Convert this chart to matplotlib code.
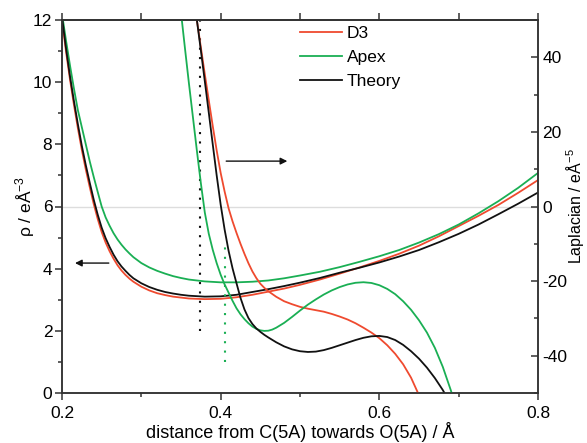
import matplotlib
matplotlib.use('Agg')
import matplotlib.pyplot as plt
from matplotlib.ticker import MultipleLocator, FixedLocator

plt.rcParams['font.family'] = ['Liberation Sans', 'DejaVu Sans']
plt.rcParams['mathtext.fontset'] = 'custom'
plt.rcParams['mathtext.rm'] = 'Liberation Sans'
plt.rcParams['font.size'] = 12.5
plt.rcParams['axes.unicode_minus'] = False

RED = '#ef4a2f'
GREEN = '#1aaf54'
BLACK = '#111111'

# electron density rho along the bond (left axis)
rho_x = [0.200, 0.205, 0.210, 0.215, 0.220, 0.225, 0.230, 0.235, 0.240, 0.245,
         0.250, 0.255, 0.260, 0.265, 0.270, 0.275, 0.280, 0.285, 0.290, 0.300,
         0.310, 0.320, 0.330, 0.340, 0.350, 0.360, 0.380, 0.400, 0.420, 0.440,
         0.460, 0.480, 0.500, 0.525, 0.550, 0.575, 0.600, 0.625, 0.650, 0.675,
         0.700, 0.725, 0.750, 0.775, 0.800]
rho_d3 = [12.0, 11.0, 10.1, 9.28, 8.52, 7.82, 7.19, 6.62, 6.08, 5.6,
          5.18, 4.84, 4.56, 4.32, 4.11, 3.94, 3.8, 3.68, 3.58, 3.42,
          3.3, 3.21, 3.15, 3.1, 3.07, 3.04, 3.02, 3.03, 3.08, 3.16,
          3.26, 3.36, 3.48, 3.65, 3.84, 4.04, 4.25, 4.48, 4.74, 5.04,
          5.37, 5.7, 6.05, 6.44, 6.85]
rho_apex = [12.2, 11.35, 10.55, 9.8, 9.1, 8.55, 8.0, 7.45, 6.95, 6.47,
            6.0, 5.65, 5.38, 5.14, 4.94, 4.77, 4.62, 4.49, 4.37, 4.18,
            4.04, 3.93, 3.84, 3.76, 3.7, 3.65, 3.59, 3.56, 3.56, 3.58,
            3.62, 3.69, 3.78, 3.9, 4.05, 4.22, 4.4, 4.6, 4.84, 5.11,
            5.42, 5.78, 6.17, 6.6, 7.08]
rho_theory = [12.1, 11.1, 10.2, 9.4, 8.65, 7.95, 7.33, 6.76, 6.22, 5.74,
              5.32, 4.98, 4.7, 4.45, 4.24, 4.07, 3.93, 3.8, 3.69, 3.53,
              3.41, 3.32, 3.25, 3.2, 3.16, 3.13, 3.1, 3.11, 3.16, 3.25,
              3.34, 3.44, 3.55, 3.7, 3.87, 4.03, 4.2, 4.39, 4.6, 4.85,
              5.12, 5.42, 5.75, 6.09, 6.45]

# Laplacian along the bond (right axis)
lap_d3_x = [0.365, 0.370, 0.375, 0.380, 0.385, 0.390, 0.395, 0.400, 0.405, 0.410,
            0.415, 0.420, 0.425, 0.430, 0.435, 0.440, 0.445, 0.450, 0.455, 0.460,
            0.470, 0.480, 0.490, 0.500, 0.510, 0.520, 0.530, 0.540, 0.550, 0.560,
            0.570, 0.580, 0.590, 0.600, 0.610, 0.620, 0.630, 0.640, 0.650, 0.655]
lap_d3 = [57.5, 50, 42.7, 35.5, 28.5, 21.6, 15.0, 9.0, 4.0, -0.5,
          -4.0, -7.1, -10.0, -12.7, -15.2, -17.4, -19.2, -20.7, -21.8, -22.7,
          -24.2, -25.4, -26.2, -26.9, -27.4, -27.8, -28.2, -28.8, -29.5, -30.3,
          -31.3, -32.5, -33.8, -35.3, -37.2, -39.5, -42.3, -45.9, -50.6, -53.5]
lap_apex_x = [0.345, 0.350, 0.355, 0.360, 0.365, 0.370, 0.375, 0.380, 0.385, 0.390,
              0.395, 0.400, 0.405, 0.410, 0.415, 0.420, 0.425, 0.430, 0.435, 0.440,
              0.445, 0.450, 0.455, 0.460, 0.465, 0.470, 0.480, 0.490, 0.500, 0.510,
              0.520, 0.530, 0.540, 0.550, 0.560, 0.570, 0.580, 0.590, 0.600, 0.610,
              0.620, 0.630, 0.640, 0.650, 0.660, 0.670, 0.680, 0.690, 0.700]
lap_apex = [61.8, 52, 42.4, 33.0, 24.0, 15.0, 6.3, -1.6, -7.3, -11.6,
            -15.2, -18.3, -20.9, -23.1, -25.3, -27.3, -28.9, -30.2, -31.3, -32.2,
            -32.8, -33.2, -33.35, -33.3, -33.0, -32.5, -31.2, -29.6, -27.9, -26.3,
            -24.9, -23.6, -22.5, -21.6, -20.9, -20.45, -20.3, -20.5, -21.1, -22.1,
            -23.5, -25.4, -27.7, -30.5, -33.8, -37.9, -43.0, -49.2, -56.0]
lap_theory_x = [0.365, 0.370, 0.375, 0.380, 0.385, 0.390, 0.395, 0.400, 0.405, 0.410,
                0.415, 0.420, 0.425, 0.430, 0.435, 0.440, 0.445, 0.450, 0.455, 0.460,
                0.470, 0.480, 0.490, 0.500, 0.510, 0.520, 0.530, 0.540, 0.550, 0.560,
                0.570, 0.580, 0.590, 0.600, 0.610, 0.620, 0.630, 0.640, 0.650, 0.660,
                0.670, 0.680, 0.690]
lap_theory = [58.0, 50, 41.9, 33.6, 25.2, 16.7, 8.3, 0.5, -6.2, -11.9,
              -16.6, -20.6, -24.5, -27.6, -29.9, -31.5, -32.7, -33.6, -34.4, -35.1,
              -36.4, -37.5, -38.3, -38.8, -39.0, -38.9, -38.5, -37.9, -37.2, -36.5,
              -35.8, -35.2, -34.8, -34.7, -35.0, -35.8, -37.1, -38.8, -40.8, -43.2,
              -46.0, -49.2, -53.0]

# dotted markers (Theory and Apex)
marker_x = [0.374, 0.4055]
marker_lo = [2.0, 1.0]
marker_hi = [12.0, 4.9]
marker_col = [BLACK, GREEN]

fig = plt.figure(figsize=(5.87, 4.43), dpi=100)
ax = fig.add_axes([62 / 587, 50 / 443, 476 / 587, 373 / 443])
ax2 = ax.twinx()

ax.axhline(6, color='#dddddd', lw=1, zorder=0)

ax.plot(rho_x, rho_d3, color=RED, lw=1.3, label='D3')
ax.plot(rho_x, rho_apex, color=GREEN, lw=1.3, label='Apex')
ax.plot(rho_x, rho_theory, color=BLACK, lw=1.3, label='Theory')

ax2.plot(lap_d3_x, lap_d3, color=RED, lw=1.3)
ax2.plot(lap_apex_x, lap_apex, color=GREEN, lw=1.3)
ax2.plot(lap_theory_x, lap_theory, color=BLACK, lw=1.3)

for mx, lo, hi, c in zip(marker_x, marker_lo, marker_hi, marker_col):
    ax.plot([mx, mx], [lo, hi], color=c, lw=1.5, linestyle=(0, (1, 3.5)))

# arrows pointing to the axes
ax.annotate('', xy=(0.2164, 4.18), xytext=(0.259, 4.18),
            arrowprops=dict(arrowstyle='-|>', color=BLACK, lw=1, mutation_scale=10,
                            shrinkA=0, shrinkB=0))
ax.annotate('', xy=(0.484, 7.46), xytext=(0.407, 7.46),
            arrowprops=dict(arrowstyle='-|>', color=BLACK, lw=1, mutation_scale=10,
                            shrinkA=0, shrinkB=0))

ax.set_xlim(0.2, 0.8)
ax.set_ylim(0, 12)
ax2.set_ylim(-50, 50)

ax.xaxis.set_major_locator(FixedLocator([0.2, 0.4, 0.6, 0.8]))
ax.xaxis.set_minor_locator(FixedLocator([0.3, 0.5, 0.7]))
ax.set_xticklabels(['0.2', '0.4', '0.6', '0.8'])
ax.yaxis.set_major_locator(MultipleLocator(2))
ax.yaxis.set_minor_locator(MultipleLocator(1))
ax2.yaxis.set_major_locator(FixedLocator([-40, -20, 0, 20, 40]))
ax2.yaxis.set_minor_locator(FixedLocator([-50, -30, -10, 10, 30, 50]))

spc = '#333333'
for a in (ax, ax2):
    for s in a.spines.values():
        s.set_color(spc)
        s.set_linewidth(1.1)

ax.tick_params(which='major', direction='out', length=5, width=1.1, color=spc, pad=2)
ax.tick_params(which='minor', direction='out', length=3, width=1.1, color=spc)
ax.tick_params(axis='x', pad=4)
ax2.tick_params(which='major', direction='in', length=5, width=1.1, color=spc, pad=3)
ax2.tick_params(which='minor', direction='in', length=3, width=1.1, color=spc)

top = ax.secondary_xaxis('top')
top.xaxis.set_major_locator(FixedLocator([0.2, 0.3, 0.4, 0.5, 0.6, 0.7, 0.8]))
top.tick_params(direction='out', length=5, width=1.1, color=spc, labeltop=False)
top.spines['top'].set_color(spc)
top.spines['top'].set_linewidth(1.1)

ax.set_xlabel('distance from C(5A) towards O(5A) / Å', labelpad=1, fontsize=13)
ax.set_ylabel(r'ρ / eÅ$^{-3}$', labelpad=-3)
ax2.set_ylabel(r'Laplacian / eÅ$^{-5}$', labelpad=-2, fontsize=11.5)

handles, labels = ax.get_legend_handles_labels()
ax2.legend(handles, labels, loc='upper left', bbox_to_anchor=(0.5, 0.985), frameon=False,
           borderpad=0, borderaxespad=0, handlelength=2.4, handletextpad=0.3,
           labelspacing=0.52)

fig.savefig('out.png', dpi=100)
